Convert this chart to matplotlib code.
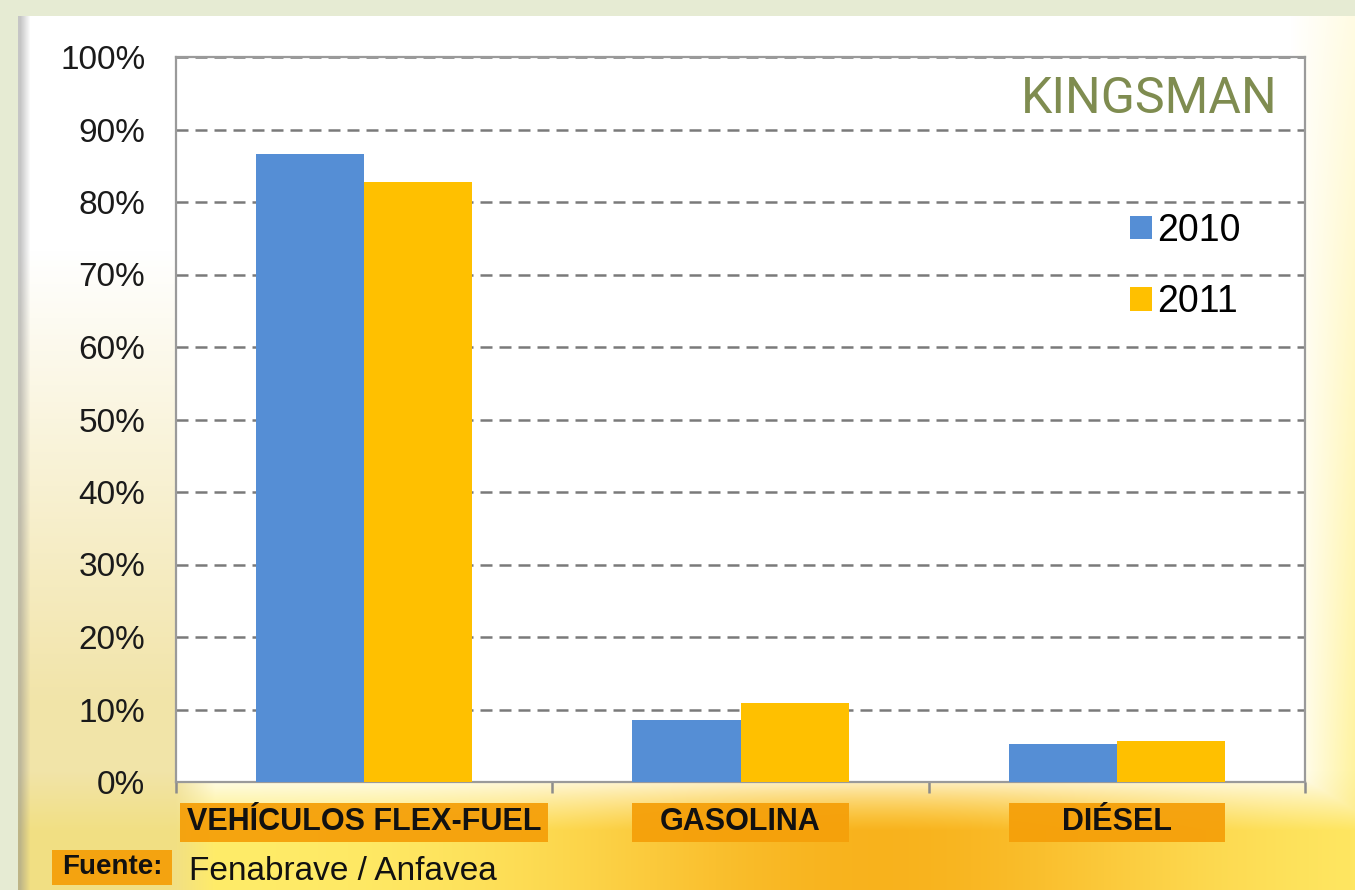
import numpy as np
import matplotlib
matplotlib.use("Agg")
import matplotlib.pyplot as plt
from matplotlib.patches import Rectangle
import matplotlib.transforms as mtransforms

# ---- data ----
categories = ["VEHÍCULOS FLEX-FUEL", "GASOLINA", "DIÉSEL"]
years = ["2010", "2011"]
values_2010 = [86.6, 8.6, 5.2]
values_2011 = [82.8, 10.9, 5.7]
yticks = [0, 10, 20, 30, 40, 50, 60, 70, 80, 90, 100]
ytick_labels = [f"{v}%" for v in yticks]
source_label = "Fuente:"
source_text = "Fenabrave / Anfavea"
brand = "KINGSMAN"

blue = "#558ed5"
yellow = "#ffc000"
orange_box = "#f5a00a"

plt.rcParams['font.family'] = ['Liberation Sans', 'DejaVu Sans']

W, H = 1355, 890
fig = plt.figure(figsize=(W / 100, H / 100), dpi=100)

# ---- background image (decoration) ----
yy, xx = np.mgrid[0:H, 0:W].astype(float)
white = np.array([1.0, 1.0, 1.0])
yel = np.array([1.0, 0.92, 0.35])
org = np.array([0.97, 0.66, 0.06])
t_right = np.clip((xx - 1290) / 100, 0, 1) * (0.25 + 0.75 * np.clip(yy / H, 0, 1))
t_bottom = np.clip((yy - 770) / 60, 0, 1)
a = np.clip(np.maximum(t_right, t_bottom * 0.9), 0, 1)[..., None]
img = white * (1 - a) + yel * a
b = (t_bottom * np.exp(-((xx - 880) / 320) ** 2))[..., None] * 0.85
img = img * (1 - b) + org * b
# left beige-yellow area
c = (np.clip((yy - 250) / 450, 0, 1) * np.clip((215 - xx) / 40, 0, 1))[..., None] * 0.75
img = img * (1 - c) + np.array([0.93, 0.86, 0.55]) * c
# left shadow of panel
sh = np.clip((30 - xx) / 10, 0, 1)[..., None] * 0.5
img = img * (1 - sh) + np.array([0.55, 0.55, 0.55]) * sh
# outer frame
outer = (xx < 18) | (yy < 16)
img[outer] = np.array([0.905, 0.925, 0.83])

bg = fig.add_axes([0, 0, 1, 1], zorder=-5)
bg.imshow(img, aspect="auto", extent=[0, W, H, 0], interpolation="bilinear")
bg.set_xlim(0, W)
bg.set_ylim(H, 0)
bg.axis("off")

# ---- main axes ----
L, R, T, B = 176, 1305, 57, 782
ax = fig.add_axes([L / W, 1 - B / H, (R - L) / W, (B - T) / H])
ax.set_facecolor("white")

x = np.arange(len(categories))
bw = 0.287
ax.bar(x - bw / 2, values_2010, bw, color=blue, label=years[0], zorder=3)
ax.bar(x + bw / 2, values_2011, bw, color=yellow, label=years[1], zorder=3)

ax.set_xlim(-0.5, len(categories) - 0.5)
ax.set_ylim(0, 100)
ax.set_yticks(yticks)
ax.set_yticklabels(ytick_labels, fontsize=24, color="#1a1a1a")
ax.tick_params(axis="y", length=0, pad=22)

ax.set_xticks(x)
ax.set_xticklabels([])
ax.tick_params(axis="x", which="major", length=0)
ax.set_xticks(np.arange(len(categories) + 1) - 0.5, minor=True)
ax.tick_params(axis="x", which="minor", length=8, width=1.8, color="#8c8c8c", direction="out")

for yv in yticks[1:]:
    ax.axhline(yv, color="#7a7a7a", lw=1.8, ls=(0, (4.8, 2.8)), zorder=1)

for s in ["left", "right", "top", "bottom"]:
    ax.spines[s].set_color("#9a9a9a")
    ax.spines[s].set_linewidth(1.6)

# brand
ax.text(0.976, 0.975, brand, transform=ax.transAxes, ha="right", va="top",
        fontsize=36, color="#7f8c50", fontweight="normal", family=["Roboto", "Liberation Sans"])

# legend
leg = ax.legend(loc="upper right", bbox_to_anchor=(0.956, 0.806), frameon=False,
                fontsize=27, handlelength=0.6, handleheight=0.6, handletextpad=0.12,
                labelspacing=0.95, borderaxespad=0)

# category labels with orange boxes
trans = mtransforms.blended_transform_factory(ax.transData, ax.transAxes)
ylab = -(822 - B) / (B - T)
texts = []
for i, cat in enumerate(categories):
    t = ax.text(x[i], ylab, cat, transform=trans, ha="center", va="center",
                fontsize=22, fontweight="bold", color="#111111", zorder=5, clip_on=False)
    texts.append(t)

fig.canvas.draw()
renderer = fig.canvas.get_renderer()
box_y0 = -(842 - B) / (B - T)
box_y1 = -(803 - B) / (B - T)
inv = ax.transData.inverted()
for i, t in enumerate(texts):
    ext = t.get_window_extent(renderer)
    tx0 = inv.transform((ext.x0 - 7, 0))[0]
    tx1 = inv.transform((ext.x1 + 7, 0))[0]
    x0 = min(x[i] - bw, tx0)
    x1 = max(x[i] + bw, tx1)
    r = Rectangle((x0, box_y0), x1 - x0, box_y1 - box_y0, transform=trans,
                  facecolor=orange_box, edgecolor="none", alpha=0.95, zorder=4, clip_on=False)
    ax.add_patch(r)

# source
fig.add_artist(Rectangle((52 / W, 1 - 885 / H), 120 / W, 35 / H, transform=fig.transFigure,
                         facecolor=orange_box, edgecolor="none", alpha=0.95, zorder=4))
fig.text(112 / W, 1 - 867 / H, source_label, ha="center", va="center", fontsize=20,
         fontweight="bold", color="#111111", zorder=5)
fig.text(189 / W, 1 - 871 / H, source_text, ha="left", va="center", fontsize=24,
         color="#111111", zorder=5)

fig.savefig("out.png", dpi=100)
